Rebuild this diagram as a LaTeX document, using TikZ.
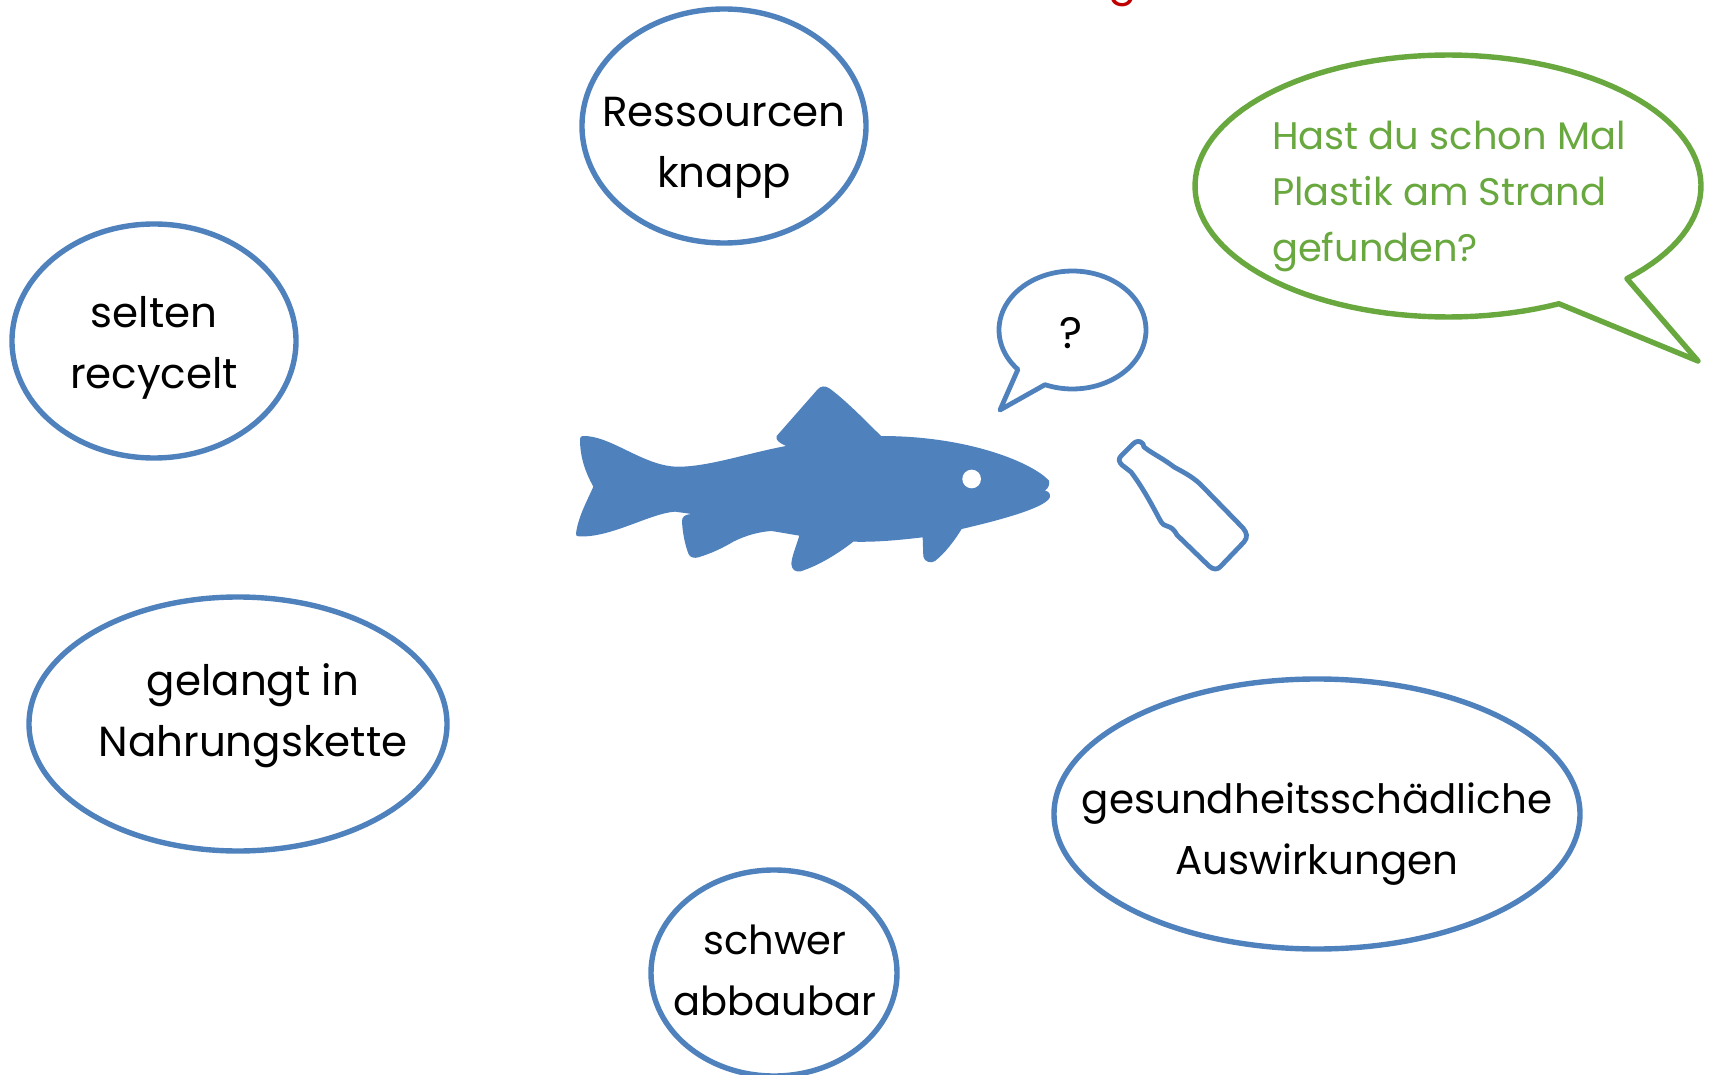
\documentclass[tikz,border=0pt]{standalone}
\usepackage{fontspec}
\setmainfont{Poppins}
\usepackage{xcolor}
\usepackage{tikz}
\usetikzlibrary{shapes.geometric}
\definecolor{fishblue}{HTML}{4F81BD}
\definecolor{talkgreen}{HTML}{68A83F}
\definecolor{topred}{HTML}{C00000}

\begin{document}
\begin{tikzpicture}[
    x=0.5pt, y=-0.5pt,
    bubble/.style={draw=fishblue, line width=2.7pt, ellipse, inner sep=0pt},
    lbl/.style={anchor=base, align=center, font=\fontsize{21}{30.5}\selectfont},
    talk/.style={line width=2.4pt, line join=round}
]
\useasboundingbox (0,0) rectangle (1710,1075);
\node[anchor=base, text=topred, font=\fontsize{21}{28}\selectfont] (redg) at (1123,-4) {g};

\node[bubble, minimum width=142pt, minimum height=117pt] (ress) at (724,126) {};
\node[lbl] (resstxt) at (724,188) {Ressourcen\\knapp};
\node[bubble, minimum width=142pt, minimum height=117pt] (selten) at (154,341) {};
\node[lbl] (seltentxt) at (154,389) {selten\\recycelt};
\node[bubble, minimum width=209pt, minimum height=127pt] (gelangt) at (238,724) {};
\node[lbl] (gelangttxt) at (253,756) {gelangt in\\Nahrungskette};
\node[bubble, minimum width=263pt, minimum height=135pt] (gesund) at (1317,814) {};
\node[lbl, font=\fontsize{20.2}{30.5}\selectfont] (gesundtxt) at (1317,874) {gesundheitsschädliche\\Auswirkungen};
\node[bubble, minimum width=123pt, minimum height=103pt] (schwer) at (774,973) {};
\node[lbl, font=\fontsize{20}{30.5}\selectfont] (schwertxt) at (775,1015) {schwer\\abbaubar};

% green speech bubble
\coordinate (greentip) at (1698,361);
\draw[talk, draw=talkgreen, line width=2.7pt] plot[domain=64:405, samples=120] ({1448+253*cos(\x)},{186+131*sin(\x)}) -- (greentip) -- cycle;
\node[anchor=base west, align=left, text=talkgreen, font=\fontsize{19.2}{28}\selectfont] (frage) at (1265,262) {Hast du schon Mal\\Plastik am Strand\\gefunden?};

% small speech bubble
\coordinate (fishtip) at (1000,410);
\draw[talk, draw=fishblue] plot[domain=138:472, samples=90] ({1072.5+73.5*cos(\x)},{330+59*sin(\x)}) -- (fishtip) -- cycle;
\node[font=\fontsize{22}{26}\selectfont] (quest) at (1071,333) {?};

% fish
\begin{scope}[shift={(560,360)}, scale=1/3]
\fill[fishblue] (60,238) .. controls (60,290) and (75,335) .. (100,380)
    .. controls (80,425) and (55,470) .. (48,520) .. controls (47,526) and (50,529) .. (56,529)
    .. controls (150,535) and (270,460) .. (345,455)
    -- (395,462) .. controls (375,463) and (365,470) .. (366,485)
    .. controls (368,520) and (375,555) .. (386,583)
    .. controls (392,594) and (405,595) .. (415,592)
    .. controls (455,580) and (490,563) .. (520,545)
    .. controls (560,525) and (600,515) .. (635,513)
    -- (718,527) .. controls (708,560) and (695,590) .. (694,612)
    .. controls (695,630) and (708,637) .. (722,634)
    .. controls (780,615) and (835,580) .. (880,545)
    .. controls (950,547) and (1020,540) .. (1088,532)
    -- (1090,590) .. controls (1093,605) and (1113,612) .. (1125,603)
    .. controls (1155,580) and (1185,540) .. (1205,507)
    .. controls (1300,485) and (1480,440) .. (1470,405)
    .. controls (1468,395) and (1460,393) .. (1455,392)
    .. controls (1465,385) and (1470,372) .. (1467,362)
    .. controls (1420,310) and (1230,228) .. (963,228)
    .. controls (910,175) and (850,115) .. (808,85)
    .. controls (795,76) and (782,78) .. (773,88)
    -- (650,228) .. controls (645,240) and (660,250) .. (678,258)
    .. controls (560,280) and (440,322) .. (350,320)
    .. controls (250,318) and (150,225) .. (68,228) .. controls (63,228) and (60,232) .. (60,238) -- cycle;
\fill[white] (1235,357) circle (28);
\end{scope}

% bottle
\draw[talk, draw=fishblue] (1133,444) -- (1121,456) .. controls (1118,459) and (1119,462) .. (1122,465)
    -- (1131,472) .. controls (1143,488) and (1152,505) .. (1160,520)
    .. controls (1165,530) and (1170,522) .. (1177,535)
    -- (1209,566) .. controls (1213,570) and (1218,570) .. (1221,566)
    -- (1244,542) .. controls (1248,537) and (1247,533) .. (1243,528)
    -- (1204,488) .. controls (1195,478) and (1185,473) .. (1174,467)
    .. controls (1165,460) and (1157,456) .. (1148,450)
    -- (1144,447) -- (1143,444) .. controls (1140,440) and (1136,441) .. (1133,444) -- cycle;
\end{tikzpicture}
\end{document}
